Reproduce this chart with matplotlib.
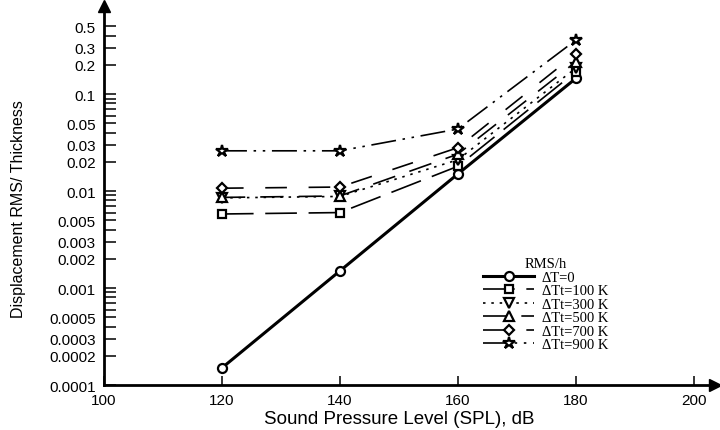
import matplotlib
matplotlib.use("Agg")
import matplotlib.pyplot as plt
from matplotlib.ticker import FixedLocator, FixedFormatter, NullFormatter

# Sound pressure levels (dB)
spl = [120, 140, 160, 180]

# Displacement RMS / thickness for each temperature rise
rms_dt0 = [0.00015, 0.0015, 0.015, 0.145]
rms_dt100 = [0.0058, 0.0060, 0.018, 0.17]
rms_dt300 = [0.0085, 0.0088, 0.021, 0.185]
rms_dt500 = [0.0086, 0.0089, 0.024, 0.215]
rms_dt700 = [0.0107, 0.0110, 0.028, 0.26]
rms_dt900 = [0.026, 0.026, 0.0436, 0.36]

legend_title = "RMS/h"
series_labels = ["\u0394T=0", "\u0394Tt=100 K", "\u0394Tt=300 K",
                 "\u0394Tt=500 K", "\u0394Tt=700 K", "\u0394Tt=900 K"]

y_major = [0.0001, 0.0002, 0.0003, 0.0005, 0.001, 0.002, 0.003, 0.005,
           0.01, 0.02, 0.03, 0.05, 0.1, 0.2, 0.3, 0.5]
y_major_labels = ["0.0001", "0.0002", "0.0003", "0.0005", "0.001", "0.002",
                  "0.003", "0.005", "0.01", "0.02", "0.03", "0.05", "0.1",
                  "0.2", "0.3", "0.5"]
y_minor = [0.0004, 0.0006, 0.0007, 0.0008, 0.0009,
           0.004, 0.006, 0.007, 0.008, 0.009,
           0.04, 0.06, 0.07, 0.08, 0.09,
           0.4]
x_ticks = [100, 120, 140, 160, 180, 200]

plt.rcParams["font.family"] = ["Liberation Sans", "DejaVu Sans"]

fig = plt.figure(figsize=(7.2, 4.31), dpi=100)
ax = fig.add_axes([0.1444, 0.1044, 0.8486, 0.8794])


def style(size):
    return dict(color="black", markerfacecolor="white",
                markeredgecolor="black", markeredgewidth=1.6,
                markersize=size, linewidth=1.2)


ax.plot(spl, rms_dt0, linestyle="-", marker="o", label=series_labels[0],
        **{**style(6.5), "linewidth": 2.2})
ax.plot(spl, rms_dt100, linestyle=(0, (19, 7)), marker="s",
        label=series_labels[1], **style(6.0))
ax.plot(spl, rms_dt300, linestyle=(0, (1.5, 3.5)), marker="v",
        label=series_labels[2], **style(6.5))
ax.plot(spl, rms_dt500, linestyle=(0, (14, 9)), marker="^",
        label=series_labels[3], **style(6.5))
ax.plot(spl, rms_dt700, linestyle=(0, (13, 13)), marker="D",
        label=series_labels[4], **style(5.2))
ax.plot(spl, rms_dt900, linestyle=(0, (15, 4, 1.5, 4, 1.5, 4)), marker="*",
        label=series_labels[5], **style(9.0))

ax.set_yscale("log")
ax.set_xlim(100, 203.6)
ax.set_ylim(0.0001, 0.81)

ax.yaxis.set_major_locator(FixedLocator(y_major))
ax.yaxis.set_major_formatter(FixedFormatter(y_major_labels))
ax.yaxis.set_minor_locator(FixedLocator(y_minor))
ax.yaxis.set_minor_formatter(NullFormatter())
ax.set_xticks(x_ticks)
ax.set_xticklabels([str(t) for t in x_ticks])

for s in ("top", "right"):
    ax.spines[s].set_visible(False)
for s in ("left", "bottom"):
    ax.spines[s].set_linewidth(2.0)

ax.tick_params(axis="y", which="both", direction="in", length=8.5, width=1.1,
               labelsize=11, pad=6)
ax.tick_params(axis="x", which="both", direction="in", length=6.5, width=1.1,
               labelsize=11, pad=6)

# Arrowheads at the ends of both axes
ax.plot(1, 0, marker=">", color="black", markersize=8, transform=ax.transAxes,
        clip_on=False)
ax.plot(0, 1, marker="^", color="black", markersize=8, transform=ax.transAxes,
        clip_on=False)

ax.set_xlabel("Sound Pressure Level (SPL), dB", fontsize=13.5)
ax.set_ylabel("Displacement RMS/ Thickness", fontsize=11.5)
ax.xaxis.set_label_coords(0.483, -0.066)
ax.yaxis.set_label_coords(-0.128, 0.467)

leg = ax.legend(title=legend_title, loc="upper left",
                bbox_to_anchor=(0.609, 0.356), frameon=False,
                prop={"family": "Liberation Serif", "size": 10.5},
                handlelength=3.5, handletextpad=0.5, labelspacing=0.02,
                borderpad=0.0)
leg.get_title().set_fontfamily("Liberation Serif")
leg.get_title().set_fontsize(10.5)

fig.savefig("out.png", dpi=100)
